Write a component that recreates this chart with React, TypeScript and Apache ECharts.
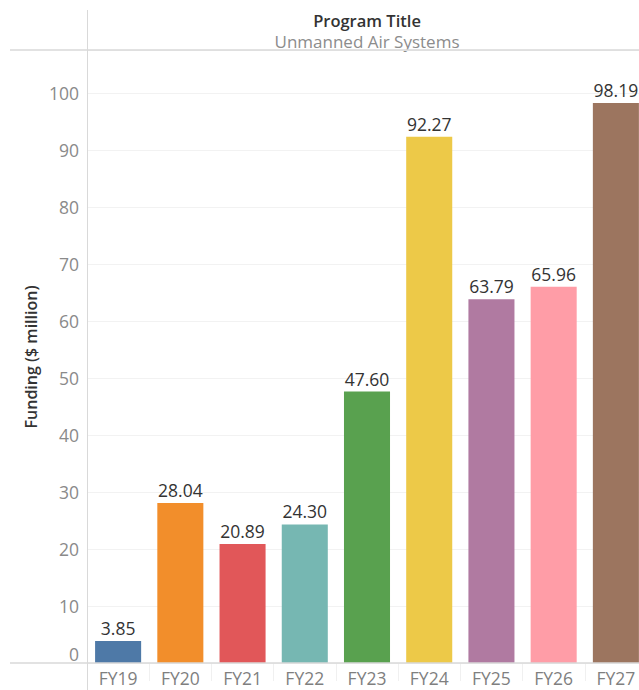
import React, { useEffect, useRef } from "react";
import * as echarts from "echarts";

const categories = ["FY19", "FY20", "FY21", "FY22", "FY23", "FY24", "FY25", "FY26", "FY27"];
const values = [3.85, 28.04, 20.89, 24.3, 47.6, 92.27, 63.79, 65.96, 98.19];
const colors = ["#4e79a7", "#f28e2b", "#e15759", "#76b7b2", "#59a14f", "#edc948", "#b07aa1", "#ff9da7", "#9c755f"];
const headerTitle = "Program Title";
const headerValue = "Unmanned Air Systems";
const yTitle = "Funding ($ million)";

const FONT = "'Open Sans', 'Noto Sans', sans-serif";

export default function App() {
  const ref = useRef<HTMLDivElement>(null);
  useEffect(() => {
    if (!ref.current) return;
    const chart = echarts.init(ref.current, undefined, { renderer: "svg" });
    chart.setOption({
      animation: false,
      backgroundColor: "#ffffff",
      textStyle: { fontFamily: FONT },
      grid: { left: 87, top: 50, width: 560, bottom: 27, containLabel: false },
      xAxis: {
        type: "category",
        data: categories,
        axisLine: { show: false },
        axisTick: { show: true, length: 18, lineStyle: { color: "#f0f0f0" } },
        axisLabel: { color: "#7f7f7f", fontSize: 17.5, margin: 6, fontFamily: FONT },
      },
      yAxis: {
        type: "value",
        min: 0,
        max: 107.5,
        interval: 10,
        axisLine: { show: false },
        axisTick: { show: false },
        splitLine: { lineStyle: { color: "#f2f2f2" } },
        axisLabel: {
          color: "#8a8a8a",
          fontSize: 17.5,
          margin: 8,
          fontFamily: FONT,
          verticalAlignMinLabel: "bottom",
          formatter: (v: number) => (Math.abs(v / 10 - Math.round(v / 10)) < 1e-6 ? String(Math.round(v)) : ""),
        },
      },
      series: [
        {
          type: "bar",
          data: values.map((v, i) => ({ value: v, itemStyle: { color: colors[i] } })),
          barCategoryGap: "26%",
          label: {
            show: true,
            position: "top",
            distance: 4,
            color: "#333333",
            fontSize: 17.5,
            fontFamily: FONT,
            formatter: (p: any) => Number(p.value).toFixed(2),
          },
        },
      ],
      graphic: [
        { type: "line", shape: { x1: 10, y1: 50, x2: 660, y2: 50 }, style: { stroke: "#d9d9d9", lineWidth: 1.5 }, z: 10 },
        { type: "line", shape: { x1: 10, y1: 663, x2: 660, y2: 663 }, style: { stroke: "#d9d9d9", lineWidth: 1.5 }, z: 10 },
        { type: "line", shape: { x1: 87.5, y1: 10, x2: 87.5, y2: 690 }, style: { stroke: "#d9d9d9", lineWidth: 1 }, z: 10 },
        {
          type: "text",
          x: 367,
          y: 20.5,
          style: { text: headerTitle, fill: "#333333", font: `600 16.5px ${FONT}`, lineHeight: 17, align: "center", verticalAlign: "middle" },
        },
        {
          type: "text",
          x: 367,
          y: 41.5,
          style: { text: headerValue, fill: "#8c8c8c", font: `17px ${FONT}`, lineHeight: 17, align: "center", verticalAlign: "middle" },
        },
        {
          type: "text",
          x: 31,
          y: 357,
          rotation: Math.PI / 2,
          style: { text: yTitle, fill: "#333333", font: `600 16px ${FONT}`, align: "center", verticalAlign: "middle" },
        },
      ],
    });
    return () => chart.dispose();
  }, []);
  return (
    <div style={{ position: "fixed", left: 0, top: 0, width: 639, height: 690, overflow: "hidden", background: "#fff" }}>
      <div ref={ref} style={{ width: 660, height: 690 }} />
    </div>
  );
}
